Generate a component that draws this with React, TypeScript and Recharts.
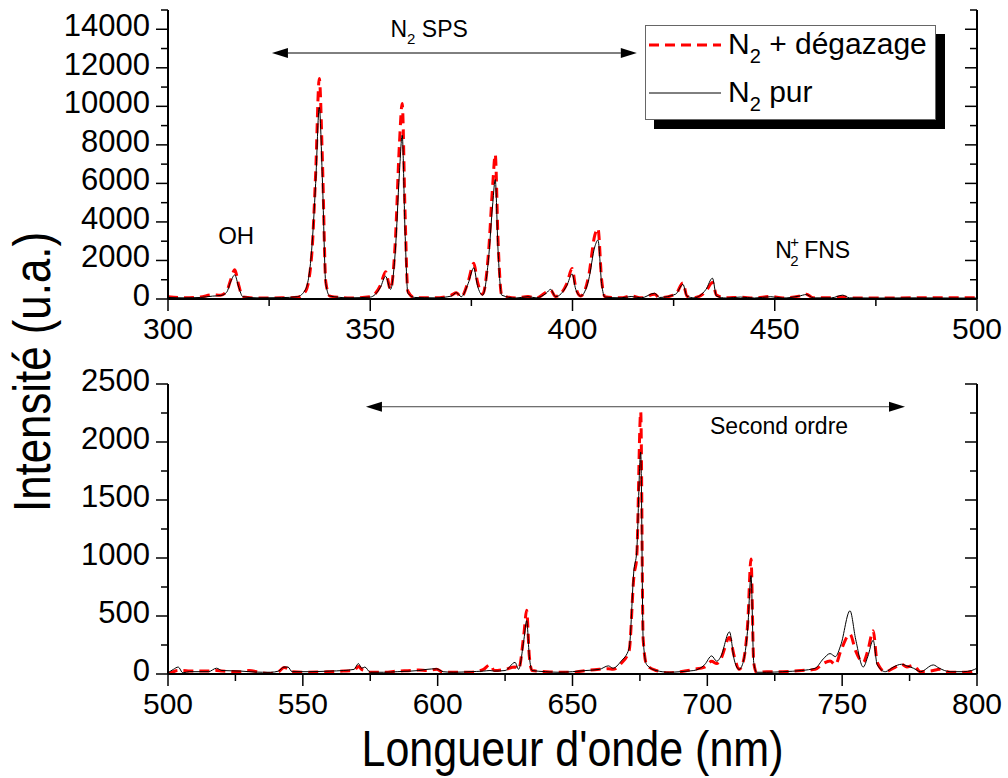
import { LineChart, Line, XAxis, YAxis, ReferenceLine, ReferenceDot, Legend } from "recharts";

const FONT = "'Liberation Sans', Arial, sans-serif";

// panneau du haut : 300-500 nm
const topWavelength = [
  300, 304, 308, 311, 313, 314.5, 315.5, 316.5, 317.5, 318.5, 322, 328, 332, 334, 335.5, 336.5, 337.4, 338.2, 339, 340,
  345, 350, 352.5, 353.8, 355, 356.2, 357.2, 357.9, 358.6, 359.3, 361, 366, 370, 371.3, 372.5, 374.2, 375.6, 376.5,
  377.8, 379.2, 380.3, 380.9, 381.6, 382.5, 386, 389, 391, 393.5, 394.6, 395.8, 398.6, 399.9, 400.8, 402, 404, 405.5,
  406.3, 407.2, 408, 412, 414.5, 417, 420.3, 421.5, 425.5, 427.3, 428.3, 430, 433, 434.6, 435.6, 438, 441.5, 445, 449,
  452, 456, 457.8, 459.5, 464, 466.8, 468.5, 475, 485, 495, 500,
];
const topPur = [
  80, 60, 80, 150, 180, 350, 900, 1250, 600, 120, 60, 70, 120, 500, 2500, 6000, 9950, 6000, 800, 150,
  60, 100, 600, 1180, 500, 2500, 6500, 8500, 3500, 300, 80, 60, 150, 330, 120, 800, 1620, 700,
  200, 2000, 5000, 6200, 2500, 200, 50, 120, 60, 300, 500, 120, 700, 1300, 500, 150, 1000, 2700,
  3060, 800, 100, 60, 130, 60, 300, 80, 250, 760, 150, 60, 500, 1080, 150, 50, 100, 50, 120,
  50, 150, 230, 60, 60, 200, 60, 50, 60, 50, 50,
];
const topDegazage = [
  120, 60, 100, 220, 200, 400, 1000, 1520, 700, 100, 50, 60, 90, 400, 2200, 6500, 11450, 7000, 900, 150,
  50, 120, 700, 1420, 500, 3000, 8000, 10150, 4500, 400, 60, 60, 200, 320, 100, 900, 1850, 900,
  250, 2300, 6000, 7500, 3000, 200, 50, 130, 50, 350, 460, 130, 800, 1580, 600, 150, 1200, 3300,
  3660, 1000, 120, 60, 160, 60, 250, 60, 250, 830, 150, 60, 400, 850, 200, 60, 90, 50, 130,
  50, 150, 250, 60, 60, 120, 60, 50, 60, 60, 60,
];

// panneau du bas : 500-800 nm (second ordre)
const bottomWavelength = [
  500, 502, 503.8, 505.5, 508, 515, 518, 520, 527, 530, 535, 538, 541, 543, 544.5, 546, 552, 560, 565, 569, 570.6,
  571.8, 573, 575, 580, 585, 590, 593, 596, 599.6, 602, 606, 612, 617, 619.4, 621, 625, 628.7, 630, 632, 633, 634,
  635, 640, 645, 650, 655, 660, 663.3, 665, 668, 671, 672.8, 673.8, 675.3, 676.2, 677.5, 681, 686, 690, 695, 699,
  701.6, 703.5, 705, 708.2, 710, 711.8, 713, 715, 716.2, 717.2, 718.3, 722, 728, 735, 740, 743, 745.5, 747.5, 749.5,
  752.9, 755, 757.8, 759.5, 761.5, 763, 766, 769, 772, 774, 776.4, 779, 783.8, 786, 790, 795, 798, 800,
];
const bottomPur = [
  10, 40, 60, 10, 20, 20, 50, 30, 25, 20, 15, 15, 25, 60, 60, 20, 20, 25, 30, 40, 90,
  50, 60, 15, 15, 20, 25, 30, 40, 45, 20, 15, 20, 25, 30, 25, 30, 100, 40, 300, 460, 150,
  30, 20, 15, 20, 30, 40, 70, 50, 110, 220, 900, 1050, 1914, 300, 80, 30, 15, 20, 30, 80,
  156, 110, 150, 363, 120, 40, 80, 400, 848, 100, 15, 15, 20, 30, 50, 130, 176, 150, 250,
  545, 300, 60, 150, 291, 80, 20, 60, 84, 70, 50, 20, 78, 50, 20, 20, 30, 50,
];
const bottomDegazage = [
  0, 20, 30, 30, 25, 25, 30, 25, 20, 30, 10, 5, 20, 55, 45, 20, 15, 20, 25, 30, 65,
  40, 30, 15, 15, 25, 30, 35, 30, 40, 15, 15, 15, 40, 80, 30, 40, 60, 40, 350, 550, 150,
  30, 20, 15, 15, 30, 40, 45, 40, 90, 200, 850, 1000, 2260, 300, 80, 30, 10, 20, 40, 60,
  110, 90, 130, 314, 150, 40, 80, 450, 992, 100, 10, 20, 20, 30, 40, 90, 112, 80, 200,
  343, 200, 100, 200, 372, 100, 20, 50, 85, 60, 75, 20, 30, 40, 15, 15, 20, 45,
];

const topXTicks = [300, 325, 350, 375, 400, 425, 450, 475, 500];
const topXLabels = [300, 350, 400, 450, 500];
const topYTicks = [0, 1000, 2000, 3000, 4000, 5000, 6000, 7000, 8000, 9000, 10000, 11000, 12000, 13000, 14000, 15000];
const topYLabels = [0, 2000, 4000, 6000, 8000, 10000, 12000, 14000];
const bottomXTicks = [500, 525, 550, 575, 600, 625, 650, 675, 700, 725, 750, 775, 800];
const bottomXLabels = [500, 550, 600, 650, 700, 750, 800];
const bottomYTicks = [0, 250, 500, 750, 1000, 1250, 1500, 1750, 2000, 2250, 2500];
const bottomYLabels = [0, 500, 1000, 1500, 2000, 2500];

const topData = topWavelength.map((x, i) => ({ x, pur: topPur[i], deg: topDegazage[i] }));
const bottomData = bottomWavelength.map((x, i) => ({ x, pur: bottomPur[i], deg: bottomDegazage[i] }));

const PL = 168;
const PR = 977;
const MAJOR = 12;
const MINOR = 7;
const axisLine = { stroke: "#000", strokeWidth: 2 };

const leftTick = (labels: number[]) => (p: any) => {
  const v = p.payload.value;
  const major = labels.includes(v);
  return (
    <g>
      <line x1={PL} x2={PL - (major ? MAJOR : MINOR)} y1={p.y} y2={p.y} stroke="#000" strokeWidth={1.5} />
      {major && (
        <text x={PL - 18} y={p.y + 7} textAnchor="end" fontFamily={FONT} fontSize={31} fill="#000">
          {v}
        </text>
      )}
    </g>
  );
};

const rightTick = (labels: number[]) => (p: any) => {
  const major = labels.includes(p.payload.value);
  return <line x1={PR} x2={PR - (major ? MAJOR : MINOR)} y1={p.y} y2={p.y} stroke="#000" strokeWidth={1.5} />;
};

const bottomTick = (labels: number[], axisY: number) => (p: any) => {
  const v = p.payload.value;
  const major = labels.includes(v);
  return (
    <g>
      <line x1={p.x} x2={p.x} y1={axisY} y2={axisY + (major ? MAJOR : MINOR)} stroke="#000" strokeWidth={1.5} />
      {major && (
        <text x={p.x} y={axisY + 40} textAnchor="middle" fontFamily={FONT} fontSize={30} fill="#000">
          {v}
        </text>
      )}
    </g>
  );
};

const topTick = (labels: number[], axisY: number) => (p: any) => {
  const major = labels.includes(p.payload.value);
  return <line x1={p.x} x2={p.x} y1={axisY} y2={axisY + (major ? MAJOR : MINOR)} stroke="#000" strokeWidth={1.5} />;
};

function Arrow(p: any) {
  const { x1, y1, x2, color } = p;
  const head = 16;
  const half = 5;
  return (
    <g>
      <line x1={x1 + head} y1={y1} x2={x2 - head} y2={y1} stroke={color} strokeWidth={1} />
      <polygon points={`${x1},${y1} ${x1 + head},${y1 - half} ${x1 + head},${y1 + half}`} fill="#000" />
      <polygon points={`${x2},${y1} ${x2 - head},${y1 - half} ${x2 - head},${y1 + half}`} fill="#000" />
    </g>
  );
}

function LegendBox() {
  const row = (top: number, dashed: boolean, label: string) => (
    <div style={{ position: "absolute", left: 0, top, height: 40, width: 291 }}>
      <svg width={80} height={40} style={{ position: "absolute", left: 0, top: 0 }}>
        <line
          x1={3}
          x2={75}
          y1={19}
          y2={19}
          stroke={dashed ? "#ff0000" : "#000"}
          strokeWidth={dashed ? 3 : 1}
          strokeDasharray={dashed ? "10 6" : undefined}
        />
      </svg>
      <span
        style={{ position: "absolute", left: 82, top: 0, fontFamily: FONT, fontSize: 30, lineHeight: "36px", whiteSpace: "nowrap", color: "#000" }}
      >
        N<sub style={{ fontSize: 20, verticalAlign: "-9px" }}>2</sub>
        {label}
      </span>
    </div>
  );
  return (
    <div
      style={{
        position: "relative",
        width: 291,
        height: 95,
        boxSizing: "border-box",
        border: "1px solid #666",
        background: "#fff",
        boxShadow: "9px 9px 0 #000",
      }}
    >
      {row(0, true, " + dégazage")}
      {row(48, false, " pur")}
    </div>
  );
}

export default function App() {
  return (
    <div style={{ position: "absolute", left: 0, top: 0, width: 1008, height: 778, background: "#fff" }}>
      <div style={{ position: "absolute", left: 0, top: 340 }}>
        <LineChart width={1008} height={438} data={bottomData} margin={{ top: 44, right: 30, bottom: 0, left: 0 }}>
          <XAxis
            dataKey="x"
            type="number"
            domain={[500, 800]}
            ticks={bottomXTicks}
            interval={0}
            height={104}
            allowDataOverflow
            axisLine={axisLine}
            tickLine={false}
            tick={bottomTick(bottomXLabels, 334)}
            label={() => (
              <text
                x={(PL + PR) / 2}
                y={426}
                textAnchor="middle"
                fontFamily={FONT}
                fontSize={50}
                textLength={422}
                lengthAdjust="spacingAndGlyphs"
                fill="#000"
              >
                Longueur d'onde (nm)
              </text>
            )}
          />
          <XAxis
            xAxisId="t"
            orientation="top"
            dataKey="x"
            type="number"
            domain={[500, 800]}
            ticks={bottomXTicks}
            interval={0}
            height={0}
            allowDataOverflow
            axisLine={axisLine}
            tickLine={false}
            tick={topTick(bottomXLabels, 44)}
          />
          <YAxis
            type="number"
            domain={[0, 2500]}
            ticks={bottomYTicks}
            interval={0}
            width={168}
            allowDataOverflow
            axisLine={axisLine}
            tickLine={false}
            tick={leftTick(bottomYLabels)}
          />
          <YAxis
            yAxisId="r"
            orientation="right"
            type="number"
            domain={[0, 2500]}
            ticks={bottomYTicks}
            interval={0}
            width={1}
            allowDataOverflow
            axisLine={axisLine}
            tickLine={false}
            tick={rightTick(bottomYLabels)}
          />
          <Line type="monotone" dataKey="deg" stroke="#ff0000" strokeWidth={3} strokeDasharray="10 6" dot={false} isAnimationActive={false} />
          <Line type="monotone" dataKey="pur" stroke="#000" strokeWidth={1} dot={false} isAnimationActive={false} />
          <ReferenceLine
            segment={[{ x: 573.4, y: 2304 }, { x: 773.3, y: 2304 }]}
            ifOverflow="visible"
            shape={(p: any) => <Arrow {...p} color="#444" />}
          />
          <ReferenceDot
            x={701}
            y={2069}
            r={0}
            ifOverflow="visible"
            shape={(p: any) => (
              <text x={p.cx} y={p.cy} fontFamily={FONT} fontSize={23} fill="#000">
                Second ordre
              </text>
            )}
          />
        </LineChart>
      </div>

      <div style={{ position: "absolute", left: 0, top: 0 }}>
        <LineChart width={1008} height={352} data={topData} margin={{ top: 10, right: 30, bottom: 0, left: 0 }}>
          <XAxis
            dataKey="x"
            type="number"
            domain={[300, 500]}
            ticks={topXTicks}
            interval={0}
            height={53}
            allowDataOverflow
            axisLine={axisLine}
            tickLine={false}
            tick={bottomTick(topXLabels, 299)}
          />
          <XAxis
            xAxisId="t"
            orientation="top"
            dataKey="x"
            type="number"
            domain={[300, 500]}
            ticks={topXTicks}
            interval={0}
            height={0}
            allowDataOverflow
            axisLine={axisLine}
            tickLine={false}
            tick={topTick(topXLabels, 10)}
          />
          <YAxis
            type="number"
            domain={[0, 15000]}
            ticks={topYTicks}
            interval={0}
            width={168}
            allowDataOverflow
            axisLine={axisLine}
            tickLine={false}
            tick={leftTick(topYLabels)}
          />
          <YAxis
            yAxisId="r"
            orientation="right"
            type="number"
            domain={[0, 15000]}
            ticks={topYTicks}
            interval={0}
            width={1}
            allowDataOverflow
            axisLine={axisLine}
            tickLine={false}
            tick={rightTick(topYLabels)}
          />
          <Line type="monotone" dataKey="deg" stroke="#ff0000" strokeWidth={3} strokeDasharray="10 6" dot={false} isAnimationActive={false} />
          <Line type="monotone" dataKey="pur" stroke="#000" strokeWidth={1} dot={false} isAnimationActive={false} />
          <ReferenceLine
            segment={[{ x: 325.7, y: 12768 }, { x: 415.9, y: 12768 }]}
            ifOverflow="visible"
            shape={(p: any) => <Arrow {...p} color="#000" />}
          />
          <ReferenceDot
            x={355}
            y={13600}
            r={0}
            ifOverflow="visible"
            shape={(p: any) => (
              <text x={p.cx} y={p.cy} fontFamily={FONT} fontSize={23} fill="#000">
                N<tspan fontSize={15} dy={7}>2</tspan>
                <tspan dy={-7}> SPS</tspan>
              </text>
            )}
          />
          <ReferenceDot
            x={312.4}
            y={2855}
            r={0}
            ifOverflow="visible"
            shape={(p: any) => (
              <text x={p.cx} y={p.cy} fontFamily={FONT} fontSize={24} fill="#000">
                OH
              </text>
            )}
          />
          <ReferenceDot
            x={450.1}
            y={2128}
            r={0}
            ifOverflow="visible"
            shape={(p: any) => (
              <text x={p.cx} y={p.cy} fontFamily={FONT} fontSize={23} fill="#000">
                N
                <tspan x={p.cx + 15} dy={-11} fontSize={15}>+</tspan>
                <tspan x={p.cx + 15} dy={19} fontSize={15}>2</tspan>
                <tspan x={p.cx + 29} dy={-8}>FNS</tspan>
              </text>
            )}
          />
          <Legend
            layout="vertical"
            align="center"
            verticalAlign="middle"
            wrapperStyle={{ left: 645, top: 25, width: 300 }}
            content={() => <LegendBox />}
          />
        </LineChart>
      </div>

      <svg width={70} height={778} style={{ position: "absolute", left: 0, top: 0 }}>
        <text
          transform="translate(50, 372) rotate(-90)"
          textAnchor="middle"
          fontFamily={FONT}
          fontSize={52}
          textLength={280}
          lengthAdjust="spacingAndGlyphs"
          fill="#000"
        >
          Intensité (u.a.)
        </text>
      </svg>
    </div>
  );
}
